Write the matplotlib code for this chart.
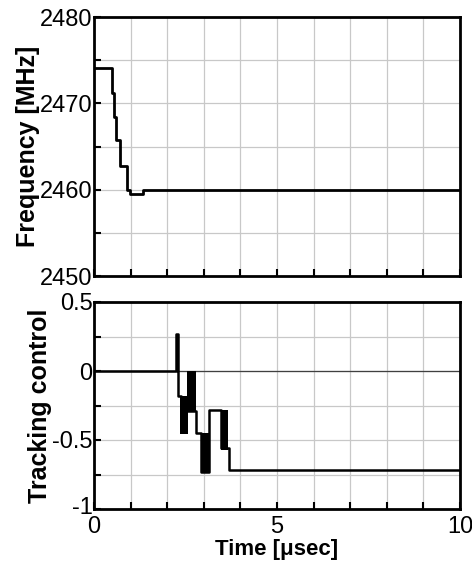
import matplotlib
matplotlib.use("Agg")
import matplotlib.pyplot as plt
import matplotlib.transforms as mtransforms
import numpy as np

plt.rcParams['font.family'] = ['Liberation Sans', 'DejaVu Sans']

# Frequency trace (step edges in time, values in MHz)
freq_t = [0.0, 0.48, 0.55, 0.60, 0.71, 0.89, 0.98, 1.33, 10.0]
freq_v = [2474.1, 2471.2, 2468.45, 2465.7, 2462.75, 2460.0, 2459.5, 2460.0, 2460.0]

# Tracking control trace (step edges / values)
ctrl_t = [0.0, 2.25, 2.30, 2.37, 2.79, 2.92, 3.14, 3.47, 3.69, 10.0]
ctrl_v = [0.0, 0.27, -0.18, -0.29, -0.45, -0.73, -0.28, -0.56, -0.72, -0.72]

# Rapidly toggling regions (appear as filled blocks): start, end, low, high
blk_start = [2.35, 2.53, 2.92, 3.47]
blk_end = [2.57, 2.79, 3.14, 3.66]
blk_low = [-0.46, -0.29, -0.73, -0.57]
blk_high = [-0.18, 0.0, -0.45, -0.28]

W, H = 472, 568
fig = plt.figure(figsize=(W / 100, H / 100), dpi=100)
ax1 = fig.add_axes([94 / W, 1 - 276 / H, (460 - 94) / W, (276 - 17) / H])
ax2 = fig.add_axes([94 / W, 1 - 509 / H, (460 - 94) / W, (509 - 302) / H])

grid_kw = dict(color='#c8c8c8', lw=0.9)

def style(ax):
    for s in ax.spines.values():
        s.set_linewidth(2.0)
    ax.set_xlim(0, 10)
    ax.set_xticks([0, 5, 10])
    ax.set_xticks(np.arange(0, 11, 1), minor=True)
    ax.tick_params(which='both', direction='in', length=5, width=1.5,
                   labelsize=17, top=False, right=False)
    ax.tick_params(axis='y', pad=1)
    ax.tick_params(axis='x', pad=5)
    ax.grid(which='both', **grid_kw)
    ax.set_axisbelow(True)

style(ax1)
ax1.set_ylim(2450, 2480)
ax1.set_yticks([2450, 2460, 2470, 2480])
ax1.set_yticks(np.arange(2450, 2481, 5), minor=True)
ax1.set_xticklabels([])
ax1.step(freq_t, freq_v, where='post', color='black', lw=2.0)
ax1.set_ylabel('Frequency [MHz]', fontsize=18, fontweight='bold', labelpad=0)

style(ax2)
ax2.set_ylim(-1, 0.5)
ax2.set_yticks([-1, -0.5, 0, 0.5])
ax2.set_yticklabels(['-1', '-0.5', '0', '0.5'])
ax2.set_yticks(np.arange(-1, 0.51, 0.25), minor=True)
ax2.axhline(0, color='#404040', lw=0.9, zorder=1)
ax2.step(ctrl_t, ctrl_v, where='post', color='black', lw=1.8, zorder=3)
for s, e, lo, hi in zip(blk_start, blk_end, blk_low, blk_high):
    ax2.fill_between([s, e], [lo, lo], [hi, hi], color='black', lw=0, zorder=3)
ax2.set_ylabel('Tracking control', fontsize=18, fontweight='bold', labelpad=0)
ax2.set_xlabel('Time [\u03bcsec]', fontsize=16, fontweight='bold', labelpad=1)

fig.canvas.draw()
lab = ax2.get_yticklabels()[0]
lab.set_transform(lab.get_transform() +
                  mtransforms.ScaledTranslation(0, 4 / 100, fig.dpi_scale_trans))

fig.savefig('out.png', dpi=100)
